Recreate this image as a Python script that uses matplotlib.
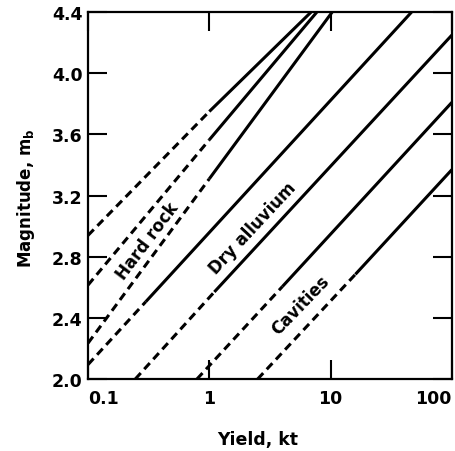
import matplotlib
matplotlib.use("Agg")
import matplotlib.pyplot as plt
from matplotlib.ticker import NullLocator

plt.rcParams['font.family'] = ['DejaVu Sans']
plt.rcParams['font.weight'] = 'bold'

# each line: (yield, mb) -> start, end of dashed part, end of solid part
hard_rock_1_yield = [0.1, 1.0, 6.9]
hard_rock_1_mb = [2.94, 3.75, 4.4]
hard_rock_2_yield = [0.1, 1.0, 7.7]
hard_rock_2_mb = [2.615, 3.565, 4.4]
hard_rock_3_yield = [0.1, 1.0, 10.3]
hard_rock_3_mb = [2.235, 3.31, 4.4]
alluvium_1_yield = [0.1, 0.3, 46.5]
alluvium_1_mb = [2.095, 2.507, 4.4]
alluvium_2_yield = [0.245, 1.1, 100]
alluvium_2_mb = [2.0, 2.57, 4.25]
cavity_1_yield = [0.79, 4.0, 100]
cavity_1_mb = [2.0, 2.605, 3.81]
cavity_2_yield = [2.5, 16, 100]
cavity_2_mb = [2.0, 2.685, 3.37]

lines = [
    (hard_rock_1_yield, hard_rock_1_mb),
    (hard_rock_2_yield, hard_rock_2_mb),
    (hard_rock_3_yield, hard_rock_3_mb),
    (alluvium_1_yield, alluvium_1_mb),
    (alluvium_2_yield, alluvium_2_mb),
    (cavity_1_yield, cavity_1_mb),
    (cavity_2_yield, cavity_2_mb),
]

x_ticks = [0.1, 1, 10, 100]
x_labels = ['0.1', '1', '10', '100']
y_ticks = [2.0, 2.4, 2.8, 3.2, 3.6, 4.0, 4.4]
y_labels = ['2.0', '2.4', '2.8', '3.2', '3.6', '4.0', '4.4']

# labels inside the plot: text, yield, mb, angle
region_text = ['Hard rock', 'Dry alluvium', 'Cavities']
region_yield = [0.31, 2.3, 5.6]
region_mb = [2.91, 2.99, 2.49]
region_angle = [53, 47, 46]

fig = plt.figure(figsize=(4.56, 4.52), dpi=100)
ax = fig.add_axes([0.193, 0.159, 0.798, 0.812])

for xs, ys in lines:
    ax.plot(xs[:2], ys[:2], color='black', lw=2.2, linestyle=(0, (2.7, 1.7)),
            solid_capstyle='butt', dash_capstyle='butt')
    ax.plot(xs[1:], ys[1:], color='black', lw=2.2, solid_capstyle='butt')

for t, xv, yv, a in zip(region_text, region_yield, region_mb, region_angle):
    ax.text(xv, yv, t, rotation=a, ha='center', va='center',
            fontsize=12, fontweight='bold', rotation_mode='anchor')

ax.set_xscale('log')
ax.set_xlim(0.1, 100)
ax.set_ylim(2.0, 4.4)
ax.set_xticks(x_ticks)
ax.set_xticklabels(x_labels)
ax.xaxis.set_minor_locator(NullLocator())
ax.set_yticks(y_ticks)
ax.set_yticklabels(y_labels)

ax.tick_params(direction='in', length=14, width=1.5, top=True, right=True,
               labelsize=12.5)
ax.tick_params(axis='x', pad=7)
ax.tick_params(axis='y', pad=4)
labs = ax.get_xticklabels()
labs[0].set_ha('left')
labs[-1].set_ha('right')

for s in ax.spines.values():
    s.set_linewidth(1.6)

ax.set_xlabel('Yield, kt', fontsize=12.5, fontweight='bold')
ax.set_ylabel('Magnitude, m$_\\mathbf{b}$', fontsize=12, fontweight='bold')
ax.xaxis.set_label_coords(0.465, -0.138)
ax.yaxis.set_label_coords(-0.14, 0.496)

fig.savefig('out.png', dpi=100)
